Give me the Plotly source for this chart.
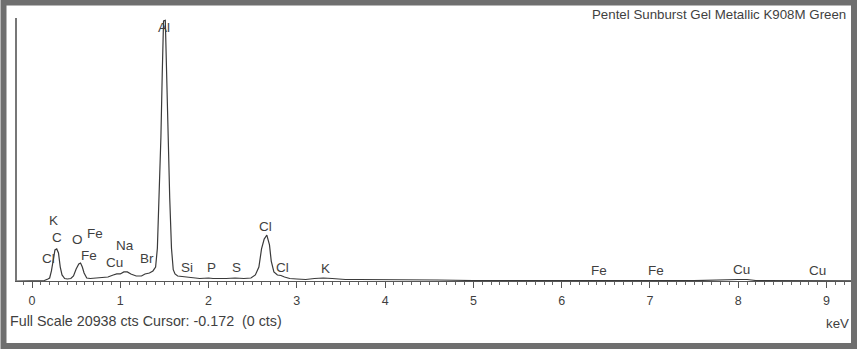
import plotly.graph_objects as go

# EDS spectrum: energy (keV) and counts
energy_kev = [
    -0.17, 0.10, 0.14, 0.18, 0.20, 0.22, 0.24, 0.26, 0.28, 0.30, 0.32, 0.34, 0.37,
    0.40, 0.44, 0.47, 0.50, 0.53, 0.55, 0.57, 0.59, 0.62, 0.66, 0.72, 0.80, 0.86,
    0.92, 0.96, 1.00, 1.04, 1.08, 1.12, 1.18, 1.24, 1.28, 1.33, 1.37, 1.40, 1.42,
    1.44, 1.46, 1.475, 1.49, 1.51, 1.525, 1.54, 1.56, 1.58, 1.60, 1.62, 1.65, 1.70,
    1.76, 1.82, 1.90, 2.00, 2.05, 2.20, 2.30, 2.40, 2.48, 2.53, 2.57, 2.60, 2.63,
    2.66, 2.69, 2.71, 2.74, 2.78, 2.82, 2.86, 2.92, 3.00, 3.10, 3.20, 3.30, 3.40,
    3.55, 3.70, 4.00, 4.25, 4.35, 4.45, 4.60, 5.00, 6.00, 6.40, 7.00, 7.10, 7.50,
    8.00, 8.10, 8.20, 8.90, 9.30,
]
counts = [
    0, 0, 40, 160, 240, 800, 1750, 2470, 2550, 2230, 1110, 480, 200,
    160, 200, 400, 950, 1350, 1430, 1110, 640, 240, 200, 240, 240, 320,
    480, 560, 560, 720, 720, 560, 400, 400, 560, 640, 800, 1110, 2600,
    6600, 11400, 16400, 20700, 20750, 16400, 11400, 6600, 2600, 900, 560, 400, 360,
    320, 240, 200, 240, 200, 200, 240, 200, 240, 480, 1110, 2550, 3340,
    3660, 2870, 1590, 720, 480, 440, 320, 200, 160, 120, 200, 240, 200,
    120, 120, 120, 120, 80, 120, 80, 40, 25, 40, 60, 60, 30,
    120, 120, 40, 40, 20,
]

# Element markers: label, energy (keV), label height (counts)
peak_labels = ["K", "C", "Cl", "O", "Fe", "Fe", "Na", "Cu", "Br", "Al", "Si", "P",
               "S", "Cl", "Cl", "K", "Fe", "Fe", "Cu", "Cu"]
peak_energy = [0.24, 0.28, 0.19, 0.52, 0.71, 0.65, 1.05, 0.94, 1.30, 1.495, 1.76, 2.03,
               2.32, 2.64, 2.84, 3.32, 6.42, 7.07, 8.04, 8.90]
peak_height = [4780, 3500, 1830, 3340, 3820, 2070, 2790, 1510, 1830, 20200, 1110, 1110,
               1110, 4300, 1110, 1030, 800, 800, 880, 800]

full_scale = 20938
x_range = [-0.17, 9.30]
tick_values = list(range(0, 10))
tick_text = [str(v) for v in tick_values]

title_text = "Pentel Sunburst Gel Metallic K908M Green"
status_text = "Full Scale 20938 cts Cursor: -0.172  (0 cts)"
unit_text = "keV"

W, H = 857, 349
ML, MR, MT, MB = 17, 4, 18, 68
pw, ph = W - ML - MR, H - MT - MB


def px_x(p):
    return (p - ML) / pw


def px_y(p):
    return (H - MB - p) / ph


FONT = "Liberation Sans, Arial, sans-serif"
TXT = "#3f3f3f"

fig = go.Figure()
fig.add_trace(go.Scatter(
    x=energy_kev, y=counts, mode="lines",
    line=dict(color="#3a3a3a", width=1.2),
    hoverinfo="skip", showlegend=False,
))

for lab, e, h in zip(peak_labels, peak_energy, peak_height):
    fig.add_annotation(x=e, y=h, xref="x", yref="y", text=lab, showarrow=False,
                       xanchor="center", yanchor="middle",
                       font=dict(family=FONT, size=13.5, color=TXT))

fig.add_annotation(x=px_x(848), y=px_y(14), xref="paper", yref="paper",
                   text=title_text, showarrow=False, xanchor="right", yanchor="middle",
                   font=dict(family=FONT, size=13.3, color=TXT))
fig.add_annotation(x=px_x(8), y=px_y(321), xref="paper", yref="paper",
                   text=status_text, showarrow=False, xanchor="left", yanchor="middle",
                   font=dict(family=FONT, size=14.3, color=TXT))
fig.add_annotation(x=px_x(851), y=px_y(323), xref="paper", yref="paper",
                   text=unit_text, showarrow=False, xanchor="right", yanchor="middle",
                   font=dict(family=FONT, size=13.3, color=TXT))

# outer window frame
fig.add_shape(type="rect", xref="paper", yref="paper",
              x0=px_x(3.5), x1=px_x(854), y0=px_y(346), y1=px_y(2.5),
              line=dict(color="#6f6f6f", width=6), fillcolor="rgba(0,0,0,0)", layer="above")

fig.update_layout(
    width=W, height=H,
    margin=dict(l=ML, r=MR, t=MT, b=MB),
    paper_bgcolor="white", plot_bgcolor="white",
    xaxis=dict(
        range=x_range, showgrid=False, zeroline=False,
        showline=True, linecolor="#555555", linewidth=1,
        tickmode="array", tickvals=tick_values, ticktext=tick_text,
        ticks="outside", ticklen=6, tickwidth=1, tickcolor="#555555",
        ticklabelstandoff=2,
        tickfont=dict(family=FONT, size=12.5, color=TXT),
        minor=dict(dtick=0.1, tick0=0, ticks="outside", ticklen=3,
                   tickwidth=1, tickcolor="#666666", showgrid=False),
    ),
    yaxis=dict(
        range=[0, full_scale], showgrid=False, zeroline=False,
        showline=True, linecolor="#777777", linewidth=1.5,
        showticklabels=False, ticks="",
    ),
)

fig.write_html("out.html")
